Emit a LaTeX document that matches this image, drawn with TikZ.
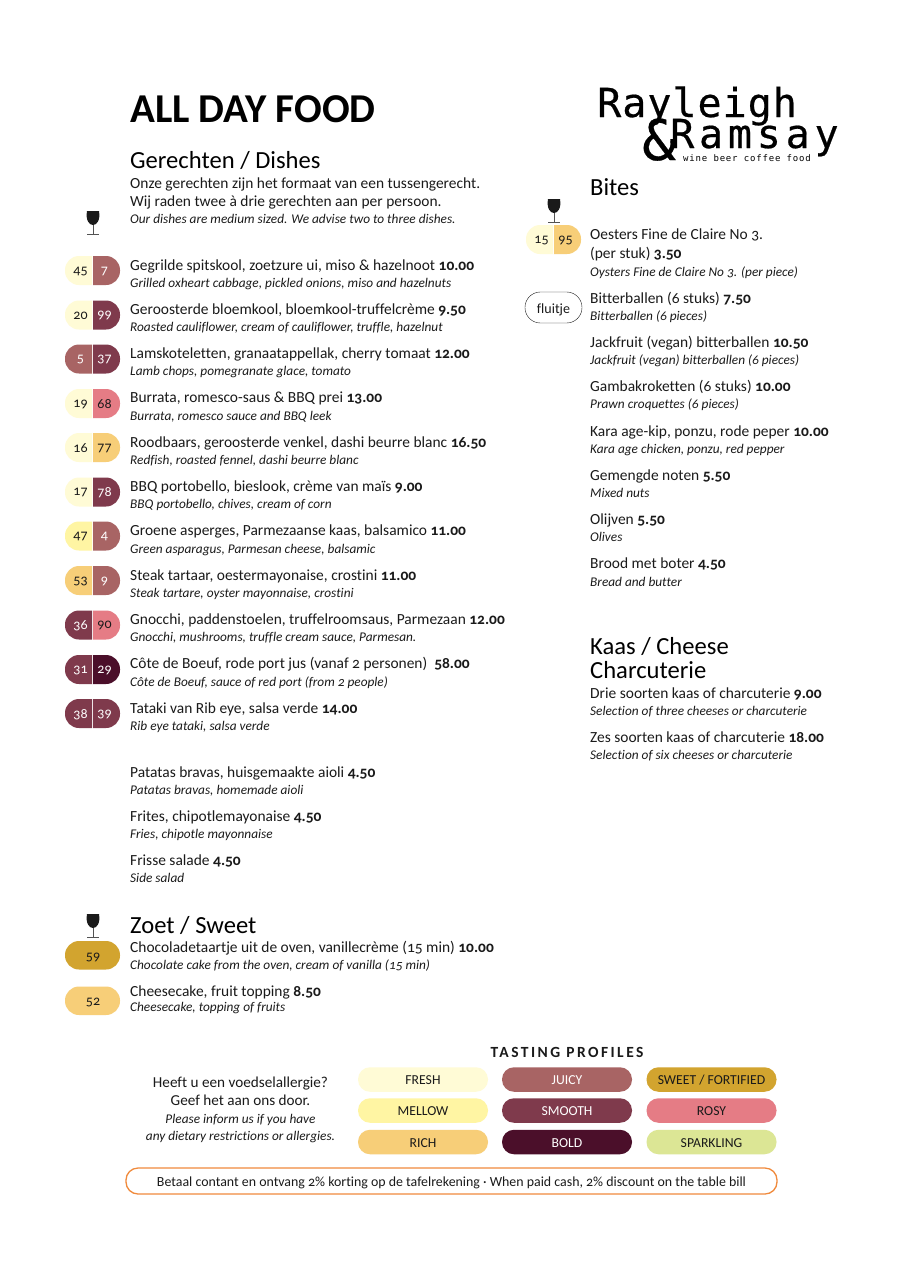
\documentclass[tikz,border=0pt]{standalone}
\usepackage{fontspec}
\setmainfont[Numbers=OldStyle,Ligatures=NoCommon]{Carlito}
\newfontfamily\logofont{DejaVu Sans Mono}
\definecolor{pfresh}{HTML}{FFFBD6}
\definecolor{pmellow}{HTML}{FFF5A3}
\definecolor{prich}{HTML}{F7CE78}
\definecolor{pjuicy}{HTML}{A86464}
\definecolor{psmooth}{HTML}{7F3A4C}
\definecolor{pbold}{HTML}{4B0F2A}
\definecolor{psweet}{HTML}{D2A42F}
\definecolor{prosy}{HTML}{E57C85}
\definecolor{psparkling}{HTML}{DCE695}
\definecolor{ink}{HTML}{1A1A1A}
\definecolor{cashline}{HTML}{F08A3C}
\tikzset{
  line/.style={anchor=base west, inner sep=0pt, text=ink, font=\fontsize{15.45}{18}\selectfont},
  trans/.style={anchor=base west, inner sep=0pt, text=ink, font=\fontsize{13.3}{16}\selectfont\itshape},
  head/.style={anchor=base west, inner sep=0pt, text=black, font=\fontsize{24.6}{30}\selectfont},
  num/.style={inner sep=0pt, font=\fontsize{14}{16}\selectfont},
  profile/.style={minimum width=130pt, minimum height=24.5pt, inner sep=0pt, rounded corners=12pt, text height=10pt, text depth=0pt, font=\fontsize{13.7}{16}\selectfont},
  allergy/.style={anchor=base, inner sep=0pt, text=ink},
  logo/.style={anchor=base west, inner sep=0pt, text=black},
}
% half pills, #1 name, #2 left edge, #3 mid y
\newcommand{\winepill}[9]{
  \fill[fill=#4] ({#2+27},{#3-14.5}) [rounded corners=14pt] -- (#2,{#3-14.5}) -- (#2,{#3+14.5}) [sharp corners] -- ({#2+27},{#3+14.5}) -- cycle;
  \fill[fill=#7] ({#2+28},{#3-14.5}) [rounded corners=14pt] -- ({#2+55},{#3-14.5}) -- ({#2+55},{#3+14.5}) [sharp corners] -- ({#2+28},{#3+14.5}) -- cycle;
  \node[num, text=#5] (#1l) at ({#2+15.5},{#3+0.8}) {#6};
  \node[num, text=#8] (#1r) at ({#2+39.5},{#3+0.8}) {#9};
}
\newcommand{\wineglass}[2]{
  \fill[ink] ({#1-6},#2) -- ({#1+6},#2) .. controls ({#1+7.5},{#2+9}) and ({#1+4},{#2+14}) .. (#1,{#2+14}) .. controls ({#1-4},{#2+14}) and ({#1-7.5},{#2+9}) .. ({#1-6},#2) -- cycle;
  \draw[ink!75, line width=0.9pt] (#1,{#2+14}) -- (#1,{#2+23.5});
  \draw[ink!75, line width=0.9pt] ({#1-6},{#2+23.5}) -- ({#1+6},{#2+23.5});
}
\newcommand{\dish}[6]{
  \node[line] (#1) at (#2,#3) {#4 \textbf{#5}};
  \node[trans] (#1en) at (#2,{#3+17.3}) {#6};
}
\begin{document}
\begin{tikzpicture}[x=1pt,y=-1pt]
  \useasboundingbox[fill=white] (0,0) rectangle (905,1280);

  \node[anchor=base west, inner sep=0pt, font=\fontsize{41}{44}\selectfont\bfseries] (title) at (130,122) {ALL DAY FOOD};
  \node[head] (dishes) at (130,168.5) {Gerechten / Dishes};
  \node[line] (intro1) at (130,188) {Onze gerechten zijn het formaat van een tussengerecht.};
  \node[line] (intro2) at (130,206) {Wij raden twee à drie gerechten aan per persoon.};
  \node[trans] (intro3) at (130,223) {Our dishes are medium sized.  We advise two to three dishes.};
  \wineglass{93}{211}

  \winepill{a}{65}{270.5}{pfresh}{ink}{45}{pjuicy}{white}{7}
  \dish{spitskool}{130}{270}{Gegrilde spitskool, zoetzure ui, miso \& hazelnoot}{10.00}{Grilled oxheart cabbage, pickled onions, miso and hazelnuts}
  \winepill{b}{65}{315}{pfresh}{ink}{20}{psmooth}{white}{99}
  \dish{bloemkool}{130}{314.3}{Geroosterde bloemkool, bloemkool-truffelcrème}{9.50}{Roasted cauliflower, cream of cauliflower, truffle, hazelnut}
  \winepill{c}{65}{359}{pjuicy}{white}{5}{psmooth}{white}{37}
  \dish{lamskotelet}{130}{358.6}{Lamskoteletten, granaatappellak, cherry tomaat}{12.00}{Lamb chops, pomegranate glace, tomato}
  \winepill{d}{65}{403.5}{pfresh}{ink}{19}{prosy}{ink}{68}
  \dish{burrata}{130}{402.9}{Burrata, romesco-saus \& BBQ prei}{13.00}{Burrata, romesco sauce and BBQ leek}
  \winepill{e}{65}{447.5}{pfresh}{ink}{16}{prich}{ink}{77}
  \dish{roodbaars}{130}{447.2}{Roodbaars, geroosterde venkel, dashi beurre blanc}{16.50}{Redfish, roasted fennel, dashi beurre blanc}
  \winepill{f}{65}{492}{pfresh}{ink}{17}{psmooth}{white}{78}
  \dish{portobello}{130}{491.5}{BBQ portobello, bieslook, crème van maïs}{9.00}{BBQ portobello, chives, cream of corn}
  \winepill{g}{65}{536}{pmellow}{ink}{47}{pjuicy}{white}{4}
  \dish{asperges}{130}{535.8}{Groene asperges, Parmezaanse kaas, balsamico}{11.00}{Green asparagus, Parmesan cheese, balsamic}
  \winepill{h}{65}{580.5}{prich}{ink}{53}{pjuicy}{white}{9}
  \dish{tartaar}{130}{580.1}{Steak tartaar, oestermayonaise, crostini}{11.00}{Steak tartare, oyster mayonnaise, crostini}
  \winepill{i}{65}{625}{psmooth}{white}{36}{prosy}{ink}{90}
  \dish{gnocchi}{130}{624.4}{Gnocchi, paddenstoelen, truffelroomsaus, Parmezaan}{12.00}{Gnocchi, mushrooms, truffle cream sauce, Parmesan.}
  \winepill{j}{65}{669.5}{psmooth}{white}{31}{pbold}{white}{29}
  \dish{boeuf}{130}{668.7}{Côte de Boeuf, rode port jus (vanaf 2 personen) }{58.00}{Côte de Boeuf, sauce of red port (from 2 people)}
  \winepill{k}{65}{713.5}{psmooth}{white}{38}{psmooth}{white}{39}
  \dish{tataki}{130}{713}{Tataki van Rib eye, salsa verde}{14.00}{Rib eye tataki, salsa verde}

  \dish{patatas}{130}{777}{Patatas bravas, huisgemaakte aioli}{4.50}{Patatas bravas, homemade aioli}
  \dish{frites}{130}{821.3}{Frites, chipotlemayonaise}{4.50}{Fries, chipotle mayonnaise}
  \dish{salade}{130}{865.6}{Frisse salade}{4.50}{Side salad}

  \node[head] (sweethead) at (130,933) {Zoet / Sweet};
  \wineglass{93}{914}
  \fill[psweet, rounded corners=14pt] (65,941) rectangle (120,969.5);
  \node[num, text=ink] (n59) at (93,957) {59};
  \dish{taartje}{130}{952}{Chocoladetaartje uit de oven, vanillecrème (15 min)}{10.00}{Chocolate cake from the oven, cream of vanilla (15 min)}
  \fill[prich, rounded corners=14pt] (65,986.5) rectangle (120,1015);
  \node[num, text=ink] (n52) at (93,1002.5) {52};
  \node[line] (cheesecake) at (130,996) {Cheesecake, fruit topping \textbf{8.50}};
  \node[trans] (cheesecakeen) at (130,1011) {Cheesecake, topping of fruits};

  \node[logo, font=\fontsize{40}{44}\selectfont\logofont\addfontfeatures{LetterSpace=2.5,FakeBold=0.5}] (logoa) at (597,117) {Rayleigh};
  \node[logo, font=\fontsize{56}{60}\selectfont\logofont\addfontfeatures{FakeBold=0.5}] (logoamp) at (642,160) {\&};
  \node[logo, font=\fontsize{40}{44}\selectfont\logofont\addfontfeatures{LetterSpace=12,FakeBold=0.5}] (logob) at (670,148) {Ramsay};
  \node[logo, font=\fontsize{9}{10}\selectfont\logofont\addfontfeatures{LetterSpace=9}] (logoc) at (683,161.5) {wine beer coffee food};

  \node[head] (bites) at (590,195) {Bites};
  \wineglass{554}{199}
  \winepill{m}{526}{239.5}{pfresh}{ink}{15}{prich}{ink}{95}
  \node[line] (oesters) at (590,239.5) {Oesters Fine de Claire No 3.};
  \node[line] (oesters2) at (590,258) {(per stuk) \textbf{3.50}};
  \node[trans] (oestersen) at (590,276) {Oysters Fine de Claire No 3. (per piece)};
  \node[draw=ink, fill=white, rounded corners=15.4pt, minimum width=57pt, minimum height=31pt, inner sep=0pt, text height=11pt, text depth=0pt, text=ink, font=\fontsize{14}{16}\selectfont] (fluitje) at (553.5,307.5) {fluitje};
  \dish{bitterballen}{590}{303}{Bitterballen (6 stuks)}{7.50}{Bitterballen (6 pieces)}
  \dish{jackfruit}{590}{347.3}{Jackfruit (vegan) bitterballen}{10.50}{Jackfruit (vegan) bitterballen (6 pieces)}
  \dish{gamba}{590}{391.6}{Gambakroketten (6 stuks)}{10.00}{Prawn croquettes (6 pieces)}
  \dish{kara}{590}{436}{Kara age-kip, ponzu, rode peper}{10.00}{Kara age chicken, ponzu, red pepper}
  \dish{noten}{590}{480.2}{Gemengde noten}{5.50}{Mixed nuts}
  \dish{olijven}{590}{524.5}{Olijven}{5.50}{Olives}
  \dish{brood}{590}{568.8}{Brood met boter}{4.50}{Bread and butter}
  \node[head] (kaas) at (590,654.5) {Kaas / Cheese};
  \node[head] (charcuterie) at (590,678.5) {Charcuterie};
  \dish{drie}{590}{698}{Drie soorten kaas of charcuterie}{9.00}{Selection of three cheeses or charcuterie}
  \dish{zes}{590}{742.3}{Zes soorten kaas of charcuterie}{18.00}{Selection of six cheeses or charcuterie}

  \node[inner sep=0pt, text=ink, font=\fontsize{15.5}{18}\selectfont\bfseries\addfontfeatures{LetterSpace=16}] (tasting) at (567,1052) {TASTING PROFILES};
  \node[profile, fill=pfresh, text=ink] (fresh) at (423,1079.5) {FRESH};
  \node[profile, fill=pmellow, text=ink] (mellow) at (423,1110.5) {MELLOW};
  \node[profile, fill=prich, text=ink] (rich) at (423,1142) {RICH};
  \node[profile, fill=pjuicy, text=white] (juicy) at (567,1079.5) {JUICY};
  \node[profile, fill=psmooth, text=white] (smoothp) at (567,1110.5) {SMOOTH};
  \node[profile, fill=pbold, text=white] (boldp) at (567,1142) {BOLD};
  \node[profile, fill=psweet, text=ink] (sweet) at (711.5,1079.5) {SWEET / FORTIFIED};
  \node[profile, fill=prosy, text=ink] (rosy) at (711.5,1110.5) {ROSY};
  \node[profile, fill=psparkling, text=ink] (sparkling) at (711.5,1142) {SPARKLING};

  \node[allergy, font=\fontsize{15.2}{18}\selectfont] (allergy1) at (240.5,1087) {Heeft u een voedselallergie?};
  \node[allergy, font=\fontsize{15.2}{18}\selectfont] (allergy2) at (240.5,1105) {Geef het aan ons door.};
  \node[allergy, font=\fontsize{13.3}{16}\selectfont\itshape] (allergy3) at (240.5,1123) {Please inform us if you have};
  \node[allergy, font=\fontsize{13.3}{16}\selectfont\itshape] (allergy4) at (240.5,1140) {any dietary restrictions or allergies.};

  \node[draw=cashline, line width=1.3pt, rounded corners=12pt, minimum width=651pt, minimum height=26pt, inner sep=0pt, text height=11pt, text depth=0pt, text=ink, font=\fontsize{13.9}{16}\selectfont] (cash) at (451.5,1181) {Betaal contant en ontvang 2\% korting op de tafelrekening · When paid cash, 2\% discount on the table bill};
\end{tikzpicture}
\end{document}
